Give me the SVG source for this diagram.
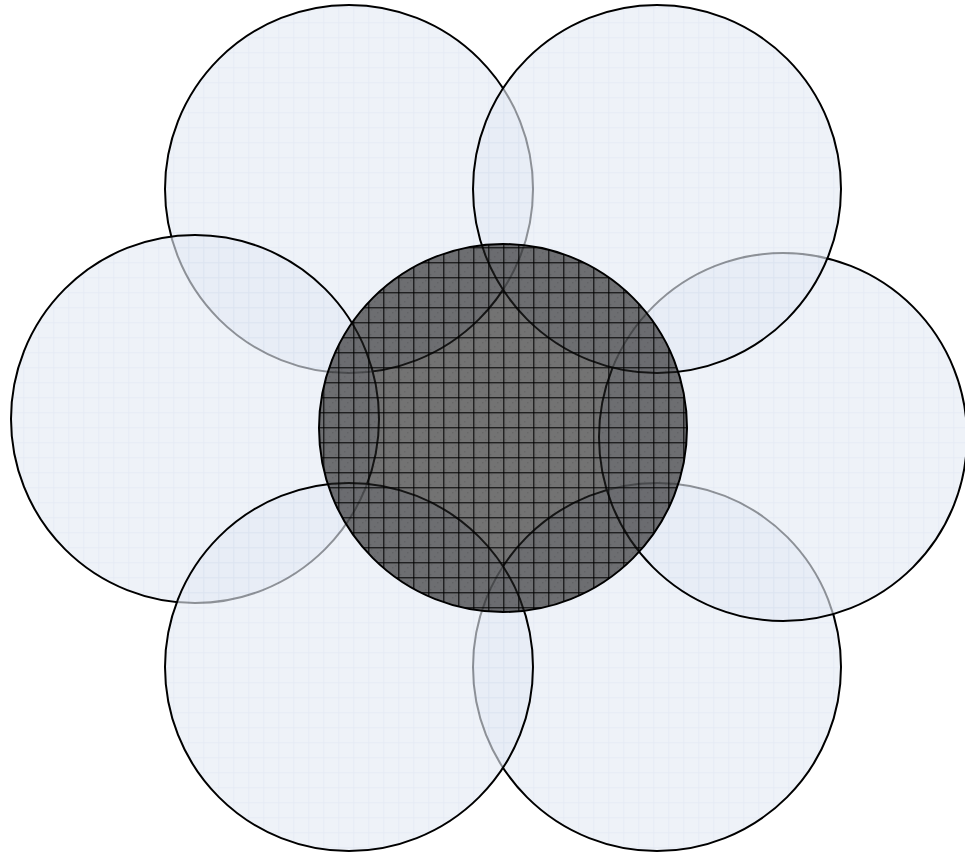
<svg xmlns="http://www.w3.org/2000/svg" width="965" height="853" viewBox="0 0 965 853">
<style>
.outer{fill:url(#lightgrid);fill-opacity:0.62;stroke:#000;stroke-width:2}
.core-fill{fill:#222222;fill-opacity:0.63;stroke:none}
.core-grid{fill:url(#darkgrid);stroke:none}
.core-line{fill:none;stroke:#000;stroke-width:2}
</style>
<defs>
<pattern id="lightgrid" patternUnits="userSpaceOnUse" x="8.3" y="7.3" width="15" height="15">
<rect width="15" height="15" fill="#e4eaf4"/>
<path d="M0.5 0V15M0 0.5H15" stroke="#d6deee" stroke-width="1" fill="none"/>
</pattern>
<pattern id="darkgrid" patternUnits="userSpaceOnUse" x="8.3" y="7.3" width="15" height="15">
<path d="M0.5 0V15M0 0.5H15" stroke="#000" stroke-width="1.1" fill="none"/>
<path d="M3 2h1v1h-1zM9 5h1v1h-1zM6 9h1v1h-1zM12 12h1v1h-1zM2 12h1v1h-1zM12 3h1v1h-1z" fill="#000" fill-opacity="0.2"/>
</pattern>
</defs>
<g id="circle-top-left"><circle class="outer" cx="349" cy="189" r="184"/></g>
<g id="circle-bottom-right"><circle class="outer" cx="657" cy="667" r="184"/></g>
<g id="circle-right"><circle class="outer" cx="783" cy="437" r="184"/></g>
<g id="circle-left"><circle class="outer" cx="195" cy="419" r="184"/></g>
<g id="circle-top-right"><circle class="outer" cx="657" cy="189" r="184"/></g>
<g id="circle-bottom-left"><circle class="outer" cx="349" cy="667" r="184"/></g>
<g id="circle-center">
<circle class="core-fill" cx="503" cy="428" r="184"/>
<circle class="core-grid" cx="503" cy="428" r="184"/>
<circle class="core-line" cx="503" cy="428" r="184"/>
</g>
<g id="connectors"></g>
</svg>
